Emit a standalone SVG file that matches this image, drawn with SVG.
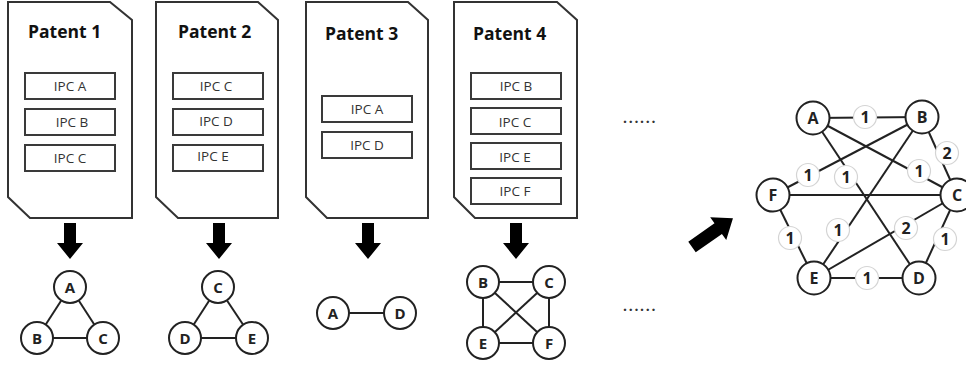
<svg xmlns="http://www.w3.org/2000/svg" width="966" height="367" viewBox="0 0 966 367">
<style>
.doc{fill:#fff;stroke:#333;stroke-width:2;stroke-linejoin:miter}
.ipc{fill:#fff;stroke:#3a3a3a;stroke-width:2}
.title{font-family:"Open Sans","DejaVu Sans",sans-serif;font-weight:bold;font-size:17.5px;fill:#111}
.ipct{font-family:"Open Sans","DejaVu Sans",sans-serif;font-size:13.5px;fill:#333;text-anchor:middle}
.node circle{fill:#fff;stroke:#222;stroke-width:2}
.node text{font-family:"Open Sans","DejaVu Sans",sans-serif;font-weight:bold;font-size:15px;fill:#222;text-anchor:middle}
.big circle{fill:#fff;stroke:#222;stroke-width:2}
.big text{font-family:"Open Sans","DejaVu Sans",sans-serif;font-weight:bold;font-size:16px;fill:#222;text-anchor:middle}
.edge{stroke:#222;stroke-width:2}
.w circle{fill:#fff;stroke:#d4d4d4;stroke-width:1.2}
.w text{font-family:"Open Sans","DejaVu Sans",sans-serif;font-weight:bold;font-size:16px;fill:#222;text-anchor:middle}
.dots{font-family:"Open Sans","DejaVu Sans",sans-serif;font-weight:bold;font-size:14px;fill:#333;letter-spacing:1.7px}
.arrow{fill:#000}
</style>
<defs>
<path id="downArrow" d="M-6,0 H6 V20 H13 L0,36 L-13,20 H-6 Z"/>
</defs>
<rect width="966" height="367" fill="#fff"/>

<g id="patent1">
<path class="doc" d="M8,2 L110,2 L132,20 L132,218 L30,218 L8,197 Z"/>
<text class="title" x="28" y="38">Patent 1</text>
<rect class="ipc" x="25" y="73" width="90" height="26"/>
<text class="ipct" x="70" y="91">IPC A</text>
<rect class="ipc" x="25" y="109" width="90" height="26"/>
<text class="ipct" x="72" y="127">IPC B</text>
<rect class="ipc" x="25" y="145" width="90" height="26"/>
<text class="ipct" x="70" y="163">IPC C</text>
</g>
<g id="patent2">
<path class="doc" d="M156,2 L258,2 L278,20 L278,218 L178,218 L156,197 Z"/>
<text class="title" x="178" y="38">Patent 2</text>
<rect class="ipc" x="173" y="73" width="90" height="26"/>
<text class="ipct" x="216" y="91">IPC C</text>
<rect class="ipc" x="173" y="109" width="90" height="26"/>
<text class="ipct" x="216" y="126">IPC D</text>
<rect class="ipc" x="173" y="145" width="90" height="26"/>
<text class="ipct" x="213" y="161">IPC E</text>
</g>
<g id="patent3">
<path class="doc" d="M306,2 L408,2 L428,20 L428,218 L327,218 L306,197 Z"/>
<text class="title" x="325" y="40">Patent 3</text>
<rect class="ipc" x="322" y="96" width="90" height="26"/>
<text class="ipct" x="367" y="114">IPC A</text>
<rect class="ipc" x="322" y="132" width="90" height="26"/>
<text class="ipct" x="367" y="150">IPC D</text>
</g>
<g id="patent4">
<path class="doc" d="M454,2 L557,2 L577,20 L577,218 L475,218 L454,197 Z"/>
<text class="title" x="473" y="40">Patent 4</text>
<rect class="ipc" x="471" y="73" width="90" height="26"/>
<text class="ipct" x="516" y="91">IPC B</text>
<rect class="ipc" x="471" y="108" width="90" height="26"/>
<text class="ipct" x="515" y="127">IPC C</text>
<rect class="ipc" x="471" y="143" width="90" height="26"/>
<text class="ipct" x="515" y="162">IPC E</text>
<rect class="ipc" x="471" y="178" width="90" height="26"/>
<text class="ipct" x="515" y="196">IPC F</text>
</g>

<g id="arrows">
<use href="#downArrow" class="arrow" transform="translate(70,223)"/>
<use href="#downArrow" class="arrow" transform="translate(219,223)"/>
<use href="#downArrow" class="arrow" transform="translate(368,223)"/>
<use href="#downArrow" class="arrow" transform="translate(516,223)"/>
<path class="arrow" d="M0,-6.5 H32 V-14 L50,0 L32,14 V6.5 H0 Z" transform="translate(692,247) rotate(-35)"/>
</g>

<text class="dots" x="623" y="123">......</text>
<text class="dots" x="623" y="311">......</text>

<g id="connectors">
<line class="edge" x1="70" y1="287" x2="37" y2="338"/>
<line class="edge" x1="70" y1="287" x2="103" y2="338"/>
<line class="edge" x1="37" y1="338" x2="103" y2="338"/>
<line class="edge" x1="218" y1="287" x2="185" y2="338"/>
<line class="edge" x1="218" y1="287" x2="252" y2="338"/>
<line class="edge" x1="185" y1="338" x2="252" y2="338"/>
<line class="edge" x1="333" y1="313" x2="400" y2="313"/>
<line class="edge" x1="483" y1="282" x2="549" y2="282"/>
<line class="edge" x1="483" y1="282" x2="483" y2="343"/>
<line class="edge" x1="549" y1="282" x2="549" y2="343"/>
<line class="edge" x1="483" y1="343" x2="549" y2="343"/>
<line class="edge" x1="483" y1="282" x2="549" y2="343"/>
<line class="edge" x1="549" y1="282" x2="483" y2="343"/>
<line class="edge" x1="813" y1="118" x2="922" y2="117"/>
<line class="edge" x1="922" y1="117" x2="957" y2="195"/>
<line class="edge" x1="813" y1="118" x2="957" y2="195"/>
<line class="edge" x1="922" y1="117" x2="773" y2="195"/>
<line class="edge" x1="813" y1="118" x2="919" y2="278"/>
<line class="edge" x1="773" y1="195" x2="957" y2="195"/>
<line class="edge" x1="922" y1="117" x2="814" y2="278"/>
<line class="edge" x1="773" y1="195" x2="814" y2="278"/>
<line class="edge" x1="814" y1="278" x2="957" y2="195"/>
<line class="edge" x1="957" y1="195" x2="919" y2="278"/>
<line class="edge" x1="814" y1="278" x2="919" y2="278"/>
</g>

<g id="weights">
<g class="w"><circle cx="865" cy="117" r="11.5"/><text x="865" y="123">1</text></g>
<g class="w"><circle cx="947" cy="153" r="11.5"/><text x="947" y="159">2</text></g>
<g class="w"><circle cx="919" cy="171" r="11.5"/><text x="919" y="177">1</text></g>
<g class="w"><circle cx="808" cy="175" r="11.5"/><text x="808" y="181">1</text></g>
<g class="w"><circle cx="846" cy="177" r="11.5"/><text x="846" y="183">1</text></g>
<g class="w"><circle cx="790" cy="238" r="11.5"/><text x="790" y="244">1</text></g>
<g class="w"><circle cx="838" cy="230" r="11.5"/><text x="838" y="236">1</text></g>
<g class="w"><circle cx="906" cy="228" r="11.5"/><text x="906" y="234">2</text></g>
<g class="w"><circle cx="945" cy="239" r="11.5"/><text x="945" y="245">1</text></g>
<g class="w"><circle cx="867" cy="278" r="11.5"/><text x="867" y="284">1</text></g>
</g>

<g id="g1-A" class="node"><circle cx="70" cy="287" r="16"/><text x="70" y="292.5">A</text></g>
<g id="g1-B" class="node"><circle cx="37" cy="338" r="16"/><text x="37" y="343.5">B</text></g>
<g id="g1-C" class="node"><circle cx="103" cy="338" r="16"/><text x="103" y="343.5">C</text></g>
<g id="g2-C" class="node"><circle cx="218" cy="287" r="16"/><text x="218" y="292.5">C</text></g>
<g id="g2-D" class="node"><circle cx="185" cy="338" r="16"/><text x="185" y="343.5">D</text></g>
<g id="g2-E" class="node"><circle cx="252" cy="338" r="16"/><text x="252" y="343.5">E</text></g>
<g id="g3-A" class="node"><circle cx="333" cy="313" r="16"/><text x="333" y="318.5">A</text></g>
<g id="g3-D" class="node"><circle cx="400" cy="313" r="16"/><text x="400" y="318.5">D</text></g>
<g id="g4-B" class="node"><circle cx="483" cy="282" r="16"/><text x="483" y="287.5">B</text></g>
<g id="g4-C" class="node"><circle cx="549" cy="282" r="16"/><text x="549" y="287.5">C</text></g>
<g id="g4-E" class="node"><circle cx="483" cy="343" r="16"/><text x="483" y="348.5">E</text></g>
<g id="g4-F" class="node"><circle cx="549" cy="343" r="16"/><text x="549" y="348.5">F</text></g>

<g id="big-A" class="big"><circle cx="813" cy="118" r="16.5"/><text x="813" y="124">A</text></g>
<g id="big-B" class="big"><circle cx="922" cy="117" r="16.5"/><text x="922" y="123">B</text></g>
<g id="big-C" class="big"><circle cx="957" cy="195" r="16.5"/><text x="957" y="201">C</text></g>
<g id="big-F" class="big"><circle cx="773" cy="195" r="16.5"/><text x="773" y="201">F</text></g>
<g id="big-E" class="big"><circle cx="814" cy="278" r="16.5"/><text x="814" y="284">E</text></g>
<g id="big-D" class="big"><circle cx="919" cy="278" r="16.5"/><text x="919" y="284">D</text></g>
</svg>
